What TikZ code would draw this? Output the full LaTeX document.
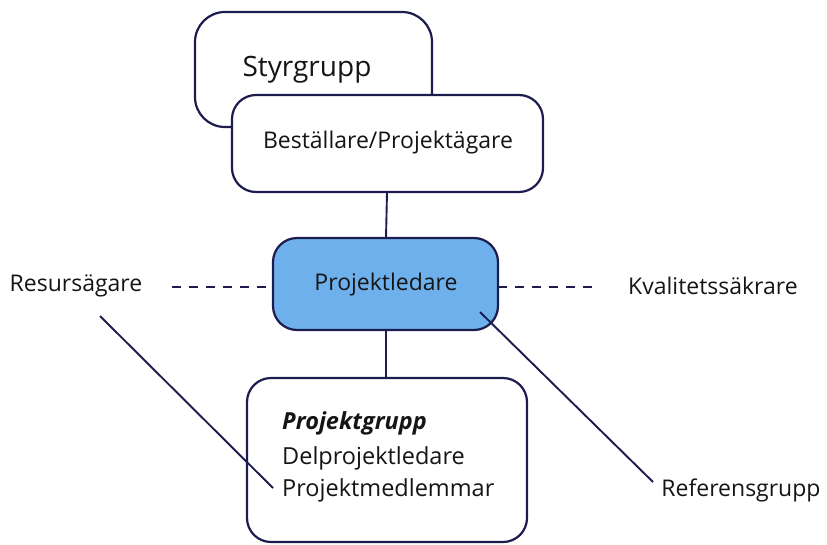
\documentclass[tikz,border=0pt]{standalone}
\usepackage{fontspec}
\setmainfont{Open Sans}
\definecolor{navy}{HTML}{1C1C4E}
\definecolor{pblue}{HTML}{6EB0EC}
\definecolor{txt}{HTML}{151515}
\begin{document}
\begin{tikzpicture}[x=1pt,y=-1pt,
  box/.style={draw=navy,line width=2.2pt,rounded corners=24pt,fill=white},
  lbl/.style={text=txt,inner sep=0pt,font=\fontsize{23}{27}\selectfont},
  conn/.style={draw=navy,line width=1.9pt},
  dconn/.style={draw=navy,line width=1.9pt,dash pattern=on 9pt off 8pt}]
\useasboundingbox (0,0) rectangle (827,544);
% boxes
\draw[box,rounded corners=30pt] (195,12) rectangle (432,127);
\node[lbl,font=\fontsize{28}{32}\selectfont] (styr) at (307,70) {Styrgrupp};
\draw[box] (232,95) rectangle (543,192);
\coordinate (bestB) at (387,192);
\node[lbl] (best) at (388,143) {Beställare/Projektägare};
\draw[box,fill=pblue] (273,238) rectangle (498,330);
\coordinate (plT) at (386,238);
\coordinate (plB) at (386,330);
\coordinate (plL) at (273,287);
\coordinate (plR) at (498,287);
\node[lbl] (pl) at (386,285) {Projektledare};
\draw[box] (247,378) rectangle (527,542);
\coordinate (pgT) at (386,378);
\node[lbl,anchor=west,font=\fontsize{23.5}{27}\selectfont] (pg1) at (282,423) {\itshape\bfseries Projektgrupp};
\node[lbl,anchor=west,font=\fontsize{23.5}{27}\selectfont] (pg2) at (282,458) {Delprojektledare};
\node[lbl,anchor=west,font=\fontsize{23.5}{27}\selectfont] (pg3) at (282,490) {Projektmedlemmar};
% side labels
\node[lbl] (res) at (76,286) {Resursägare};
\node[lbl] (kval) at (713,286) {Kvalitetssäkrare};
\node[lbl] (ref) at (741,490) {Referensgrupp};
% connectors
\draw[conn] (bestB) -- (plT);
\draw[conn] (plB) -- (pgT);
\coordinate (dl) at (172,287);
\coordinate (dr) at (592,287);
\draw[dconn] (dl) -- (plL);
\draw[dconn] (plR) -- (dr);
\coordinate (r1) at (100,316);
\coordinate (r2) at (273,488);
\draw[conn] (r1) -- (r2);
\coordinate (f1) at (480,312);
\coordinate (f2) at (653,482);
\draw[conn] (f1) -- (f2);
\end{tikzpicture}
\end{document}
